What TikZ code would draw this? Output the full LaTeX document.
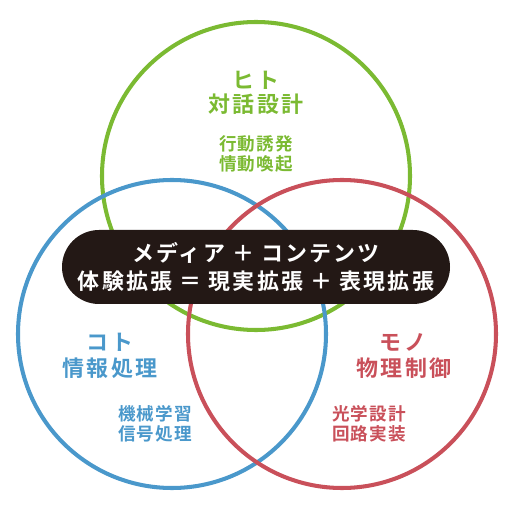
\documentclass[tikz,border=0pt]{standalone}
\usepackage{fontspec}
\newfontfamily\cjk{Noto Sans CJK JP}[BoldFont={Noto Sans CJK JP Bold},LetterSpace=6]
\newfontfamily\cjkwide{Noto Sans CJK JP}[BoldFont={Noto Sans CJK JP Bold},LetterSpace=12]
\newfontfamily\cjkband{Noto Sans CJK JP}[BoldFont={Noto Sans CJK JP Bold},LetterSpace=10]
\usepackage{xcolor}
\definecolor{hgreen}{HTML}{7BBA32}
\definecolor{kblue}{HTML}{4A98CB}
\definecolor{mred}{HTML}{C9505A}
\definecolor{boxink}{HTML}{231815}
\usepackage{tikz}
\usetikzlibrary{positioning}

\begin{document}
\begin{tikzpicture}[
  ring/.style={draw,line width=2.3pt},
  head/.style={font=\cjkwide\bfseries\fontsize{12.5}{15}\selectfont},
  sub/.style={font=\cjk\bfseries\fontsize{10}{11.4}\selectfont,align=center},
  core/.style={rectangle,rounded corners=0.74cm,fill=boxink,text=white,
               minimum width=7.76cm,minimum height=1.48cm,align=center,
               font=\cjkband\bfseries\fontsize{12.5}{16.4}\selectfont}]
\useasboundingbox (0,0) rectangle (10.24,10.24);
% three circles
\draw[ring,hgreen] (5.12,6.72) circle (3.08);
\draw[ring,kblue] (3.44,3.56) circle (3.08);
\draw[ring,mred] (6.84,3.56) circle (3.08);
% centre band
\node[core] (band) at (5.12,4.9)
  {メディア ＋ コンテンツ\\体験拡張 ＝ 現実拡張 ＋ 表現拡張};
% hito
\node[head,text=hgreen] (hito) at (5.12,8.64) {ヒト};
\node[head,text=hgreen] (taiwa) at (5.12,8.16) {対話設計};
\node[sub,text=hgreen] (hitosub) at (5.12,7.16) {行動誘発\\情動喚起};
% koto
\node[head,text=kblue] (koto) at (2.2,3.4) {コト};
\node[head,text=kblue] (joho) at (2.2,2.88) {情報処理};
\node[sub,text=kblue] (kotosub) at (3.1,1.76) {機械学習\\信号処理};
% mono
\node[head,text=mred] (mono) at (8.06,3.4) {モノ};
\node[head,text=mred] (butsuri) at (8.08,2.88) {物理制御};
\node[sub,text=mred] (monosub) at (7.38,1.76) {光学設計\\回路実装};
\end{tikzpicture}
\end{document}
